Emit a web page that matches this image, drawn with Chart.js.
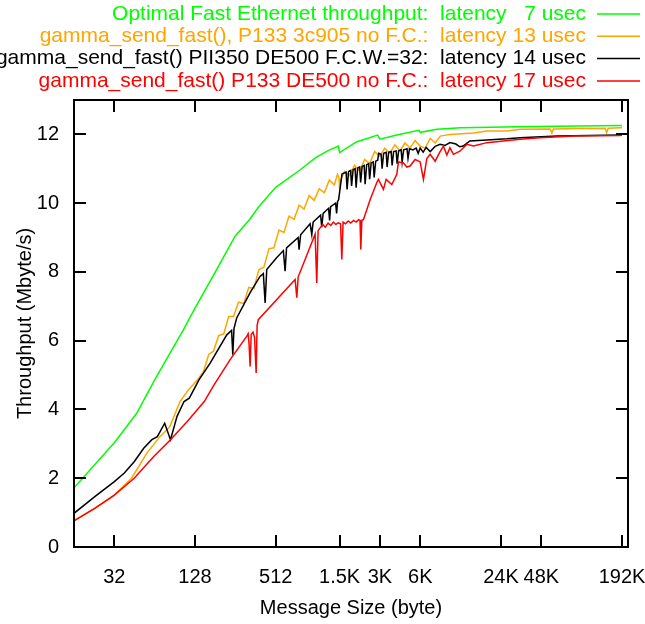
<!DOCTYPE html>
<html>
<head>
<meta charset="utf-8">
<script src="https://cdn.jsdelivr.net/npm/chart.js@4.4.0/dist/chart.umd.min.js"></script>
<style>
  body { margin: 0; background: #fff; }
  canvas { display: block; }
</style>
</head>
<body>
<canvas id="chart" width="645" height="624"></canvas>
<script>
'use strict';

// axis ticks
let xTickSizes = [32, 128, 512, 1536, 3072, 6144, 24576, 49152, 196608];
let xTickLabels = ['32', '128', '512', '1.5K', '3K', '6K', '24K', '48K', '192K'];
let yTickValues = [0, 2, 4, 6, 8, 10, 12];

let seriesLabels = [
  'Optimal Fast Ethernet throughput:  latency   7 usec',
  'gamma_send_fast(), P133 3c905 no F.C.:  latency 13 usec',
  'gamma_send_fast() PII350 DE500 F.C.W.=32:  latency 14 usec',
  'gamma_send_fast() P133 DE500 no F.C.:  latency 17 usec',
];
let seriesColors = ['#00ff00', '#ffa500', '#000000', '#ff0000'];

// message size (byte) and throughput (Mbyte/s)
let optimalSize = [16, 32, 47, 64, 105, 128, 169, 255, 326, 384, 512, 768, 1024, 1250, 1500, 1536,
  2048, 2950, 3072, 4096, 6000, 6144, 8192, 12288, 16384, 32768, 65536, 131072, 196608];
let optimalMBs = [1.72, 3.03, 3.89, 4.86, 6.32, 6.95, 7.78, 9.04, 9.52, 9.9, 10.46, 10.95, 11.33, 11.52, 11.66, 11.47,
  11.78, 11.98, 11.86, 11.98, 12.12, 12.06, 12.15, 12.19, 12.2, 12.22, 12.24, 12.25, 12.26];

let p133c905Size = [16, 23, 32, 43, 56, 70, 83, 99, 114, 124,
  136, 148, 162, 176, 192, 210, 228, 248, 270, 296, 322, 352, 384, 418, 456, 496, 542, 590, 644, 702,
  766, 834, 910, 992, 1082, 1180, 1286, 1402, 1480, 1518, 1536, 1560, 1670, 1820, 1984, 2164, 2360, 2574,
  2806, 3060, 3338, 3640, 3970, 4330, 4722, 5150, 5616, 6124, 6680, 7284, 7944, 8664,
  10230, 15330, 19290, 27170, 34160, 57300, 59000, 60500, 64280, 85470, 147400, 151000, 155000, 190800, 196608];
let p133c905MBs = [0.77, 1.13, 1.51, 2.0, 2.73, 3.21, 3.5, 4.23, 4.57, 4.72,
  4.9, 5.1, 5.6, 5.7, 6.15, 6.2, 6.7, 6.7, 7.12, 7.08, 7.55, 7.52, 8.07, 8.14, 8.67, 8.7, 9.22, 9.15, 9.62, 9.53,
  9.94, 9.83, 10.22, 10.08, 10.42, 10.3, 10.67, 10.53, 10.84, 10.75, 10.4, 10.65, 10.92, 10.8, 11.1, 10.93, 11.27, 11.15,
  11.5, 11.37, 11.6, 11.45, 11.7, 11.52, 11.75, 11.6, 11.82, 11.66, 11.6, 11.88, 11.75, 11.95,
  12.0, 12.04, 12.1, 12.1, 12.15, 12.16, 12.04, 12.16, 12.16, 12.17, 12.18, 12.05, 12.18, 12.19, 12.19];

let pii350Size = [16, 23, 32, 38, 45, 53, 61, 67, 76, 84, 94, 106, 116, 137, 166, 221, 240, 245, 250, 262,
  330, 391, 414, 427, 439, 516, 584, 602, 617, 753, 765, 786, 925, 952, 974, 1108, 1130, 1157,
  1271, 1293, 1316, 1434, 1458, 1484, 1510, 1600,
  1717, 1746, 1792, 1855, 1887, 1936, 2004, 2039, 2093, 2166, 2204, 2261, 2341, 2381, 2444, 2530, 2573, 2641,
  2734, 2781, 2855, 2955, 3006, 3134, 3188, 3271, 3415, 3474, 3565, 3722, 3786, 3885, 4056, 4126, 4234,
  4420, 4496, 4614, 4889, 4974, 5103, 5412, 5721, 5920, 6126, 6454, 6797, 7282, 7928, 8631, 9396,
  10230, 11323, 12120, 12830, 14400, 19290, 27170, 34160, 64280, 190800, 196608];
let pii350MBs = [0.98, 1.47, 1.9, 2.15, 2.48, 2.87, 3.12, 3.21, 3.6, 3.12, 3.8, 4.23, 4.33, 4.86, 5.35, 6.17, 6.3, 5.59, 6.35, 6.66,
  7.4, 7.87, 7.95, 7.1, 8.07, 8.4, 8.62, 8.02, 8.7, 9.0, 8.65, 9.08, 9.4, 9.09, 9.45, 9.65, 9.3, 9.7,
  9.85, 9.5, 9.9, 10.0, 9.7, 10.05, 10.1, 10.85,
  10.9, 10.4, 10.92, 10.95, 10.5, 10.97, 11.0, 10.45, 11.02, 11.05, 10.6, 11.07, 11.1, 10.55, 11.12, 11.15, 10.7, 11.17,
  11.2, 10.75, 11.22, 11.25, 11.45, 11.42, 11.0, 11.45, 11.48, 11.05, 11.48, 11.5, 11.1, 11.5, 11.52, 11.15, 11.52,
  11.55, 11.2, 11.55, 11.58, 11.3, 11.58, 11.55, 11.6, 11.45, 11.6, 11.48, 11.62, 11.5, 11.65, 11.71, 11.68,
  11.76, 11.72, 11.64, 11.66, 11.81, 11.84, 11.87, 11.9, 11.95, 11.98, 11.98];

let p133de500Size = [16, 23, 32, 45, 63, 84, 112, 150, 178, 234, 312, 319, 324, 330, 336, 347, 356, 366, 372, 380,
  715, 736, 753, 1008, 1037, 1061, 1098, 1150, 1200, 1260, 1320, 1380, 1440, 1500, 1560, 1595, 1630,
  1700, 1780, 1860, 1950, 2040, 2130, 2180, 2210, 2250, 2312, 2594, 2910, 2991, 3261, 3416, 3766,
  4104, 4219, 4598, 4871, 5155, 5623, 6126, 6485, 6876, 7282, 7928, 8631, 9146, 9696, 10230, 10860,
  12120, 13670, 15330, 19290, 25660, 34160, 48210, 85470, 190800, 196608];
let p133de500MBs = [0.76, 1.13, 1.51, 2.0, 2.63, 3.12, 3.65, 4.23, 4.72, 5.45, 6.13, 6.2, 5.9, 5.25, 6.18, 6.25, 6.1, 5.06, 6.45, 6.61,
  7.78, 7.25, 7.85, 9.1, 7.68, 9.2, 9.28, 9.38, 9.3, 9.42, 9.35, 9.45, 9.38, 9.43, 9.4, 8.36, 9.45,
  9.4, 9.48, 9.42, 9.5, 9.45, 9.52, 9.5, 8.65, 9.5, 9.52, 10.1, 10.6, 10.69, 10.4, 10.69, 10.54,
  10.84, 11.2, 11.17, 11.05, 11.08, 11.27, 11.2, 10.69, 11.3, 11.42, 11.22, 11.5, 11.66, 11.4, 11.61, 11.42,
  11.51, 11.71, 11.66, 11.76, 11.81, 11.86, 11.9, 11.95, 11.97, 11.98];

let fontFamily = '"Liberation Sans", Arial, Helvetica, sans-serif';

function toPoints(sizes, values) {
  let points = [];
  for (let i = 0; i < sizes.length; i++) {
    points.push({ x: sizes[i], y: values[i] });
  }
  return points;
}

function makeDataset(index, sizes, values, order) {
  return {
    label: seriesLabels[index],
    data: toPoints(sizes, values),
    borderColor: seriesColors[index],
    borderWidth: 1.5,
    pointRadius: 0,
    tension: 0,
    order: order,
  };
}

// frame with inward ticks on all four sides, and gnuplot-style key
let framePlugin = {
  id: 'frame',
  afterDatasetsDraw(chart) {
    let ctx = chart.ctx;
    let area = chart.chartArea;
    let xScale = chart.scales.x;
    let yScale = chart.scales.y;
    ctx.save();
    ctx.strokeStyle = '#000';
    ctx.lineWidth = 2;
    ctx.strokeRect(area.left, area.top, area.right - area.left, area.bottom - area.top);
    ctx.beginPath();
    for (let i = 0; i < xTickSizes.length; i++) {
      let px = Math.round(xScale.getPixelForValue(xTickSizes[i]));
      ctx.moveTo(px, area.bottom);
      ctx.lineTo(px, area.bottom - 12);
      ctx.moveTo(px, area.top);
      ctx.lineTo(px, area.top + 12);
    }
    for (let i = 0; i < yTickValues.length; i++) {
      let py = Math.round(yScale.getPixelForValue(yTickValues[i]));
      ctx.moveTo(area.left, py);
      ctx.lineTo(area.left + 12, py);
      ctx.moveTo(area.right, py);
      ctx.lineTo(area.right - 12, py);
    }
    ctx.stroke();

    ctx.font = '21px ' + fontFamily;
    ctx.textAlign = 'right';
    ctx.textBaseline = 'middle';
    for (let i = 0; i < seriesLabels.length; i++) {
      let rowY = 14 + i * 22.3;
      ctx.fillStyle = seriesColors[i];
      ctx.fillText(seriesLabels[i], 586, rowY);
      ctx.strokeStyle = seriesColors[i];
      ctx.lineWidth = 1.5;
      ctx.beginPath();
      ctx.moveTo(597, rowY);
      ctx.lineTo(640, rowY);
      ctx.stroke();
    }
    ctx.restore();
  },
};

let chartConfig = {
  type: 'line',
  data: {
    datasets: [
      makeDataset(0, optimalSize, optimalMBs, 4),
      makeDataset(1, p133c905Size, p133c905MBs, 3),
      makeDataset(2, pii350Size, pii350MBs, 2),
      makeDataset(3, p133de500Size, p133de500MBs, 1),
    ],
  },
  options: {
    responsive: false,
    animation: false,
    layout: {
      padding: { top: 100, right: 17, left: 0, bottom: 0 },
    },
    plugins: {
      legend: { display: false },
      tooltip: { enabled: false },
    },
    scales: {
      x: {
        type: 'logarithmic',
        min: 16,
        max: 218000,
        afterBuildTicks(scale) {
          scale.ticks = xTickSizes.map((v) => ({ value: v }));
        },
        afterFit(scale) {
          scale.height = 77;
          scale.paddingLeft = 0;
          scale.paddingRight = 0;
        },
        grid: { display: false, drawTicks: false },
        border: { display: false },
        ticks: {
          autoSkip: false,
          maxRotation: 0,
          padding: 18,
          color: '#000',
          font: { family: fontFamily, size: 20 },
          callback: (value, index) => xTickLabels[index],
        },
        title: {
          display: true,
          text: 'Message Size (byte)',
          color: '#000',
          font: { family: fontFamily, size: 20 },
          padding: { top: 0, bottom: 4 },
        },
      },
      y: {
        min: 0,
        max: 13,
        afterBuildTicks(scale) {
          scale.ticks = yTickValues.map((v) => ({ value: v }));
        },
        afterFit(scale) {
          scale.width = 74;
          scale.paddingTop = 0;
          scale.paddingBottom = 0;
        },
        grid: { display: false, drawTicks: false },
        border: { display: false },
        ticks: {
          padding: 15,
          color: '#000',
          font: { family: fontFamily, size: 20 },
        },
        title: {
          display: true,
          text: 'Throughput (Mbyte/s)',
          color: '#000',
          font: { family: fontFamily, size: 20 },
          padding: { top: 13, bottom: 0 },
        },
      },
    },
  },
  plugins: [framePlugin],
};

let chart = new Chart(document.getElementById('chart'), chartConfig);
</script>
</body>
</html>
